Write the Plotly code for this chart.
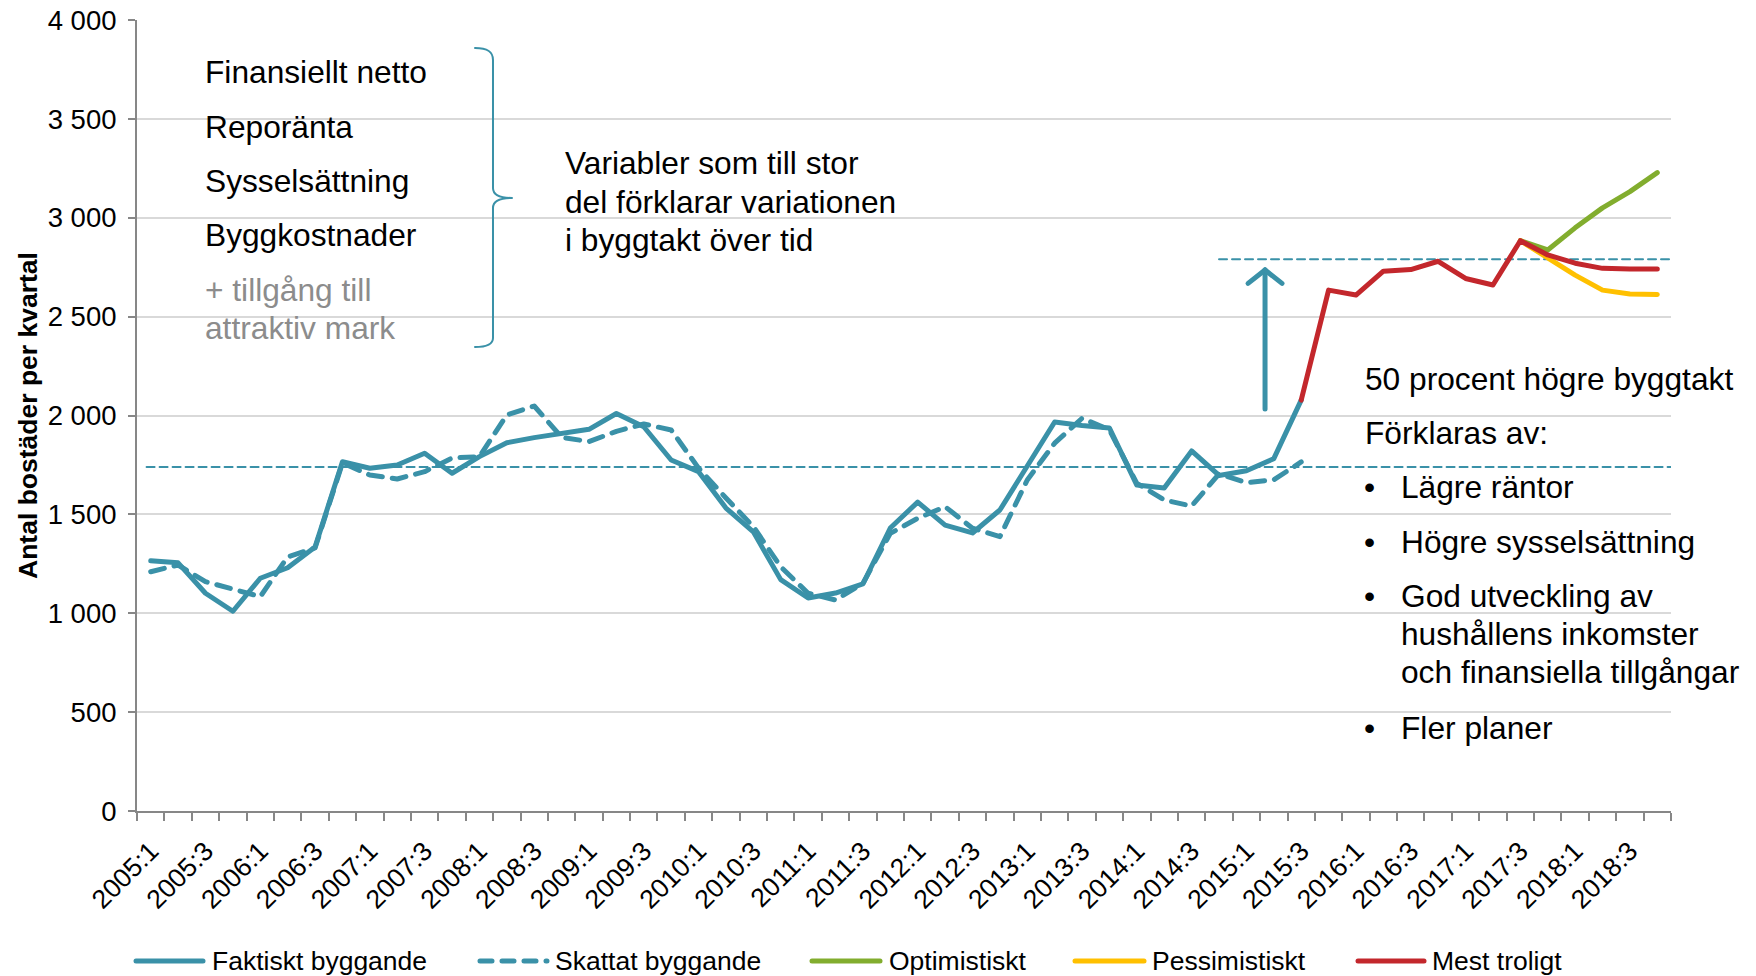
import plotly.graph_objects as go

# Quarterly categories 2005:1 – 2018:4
quarters = [f"{y}:{q}" for y in range(2005, 2019) for q in range(1, 5)]
tick_labels = [q if i % 2 == 0 else "" for i, q in enumerate(quarters)]

# Actual construction, 2005:1 – 2015:3
faktiskt = [1265, 1255, 1101, 1010, 1177, 1230, 1335, 1766, 1733, 1750,
            1809, 1708, 1792, 1862, 1888, 1912, 1930, 2010, 1943, 1775,
            1716, 1532, 1412, 1170, 1077, 1102, 1148, 1431, 1562, 1446,
            1406, 1522, 1739, 1967, 1949, 1937, 1648, 1633, 1821, 1697,
            1721, 1782, 2078]
# Model estimate, 2005:1 – 2015:3
skattat = [1210, 1244, 1160, 1122, 1084, 1285, 1330, 1760, 1699, 1679,
           1716, 1785, 1792, 2003, 2048, 1890, 1868, 1920, 1957, 1927,
           1734, 1583, 1438, 1235, 1101, 1067, 1151, 1404, 1480, 1539,
           1430, 1387, 1674, 1860, 1986, 1927, 1657, 1573, 1542, 1705,
           1660, 1675, 1765]
# Forecast, most likely: 2015:3 – 2018:4
mest_troligt = [2078, 2634, 2609, 2730, 2738, 2780, 2693, 2660, 2884, 2812,
                2770, 2744, 2741, 2741]
# Scenarios: 2017:3 – 2018:4
optimistiskt = [2884, 2837, 2949, 3050, 3132, 3228]
pessimistiskt = [2884, 2796, 2710, 2634, 2614, 2612]

# Reference levels
niva_fore = 1740
niva_efter = 2790
pil_fran, pil_till = 2033, 2736

y_ticks = [0, 500, 1000, 1500, 2000, 2500, 3000, 3500, 4000]
y_tick_text = ["0", "500", "1 000", "1 500", "2 000", "2 500", "3 000", "3 500", "4 000"]

TEAL = "#3A91A8"
RED = "#C3272C"
GREEN = "#82AD2E"
YELLOW = "#FFC000"
GRAY_TXT = "#8C8C8C"
AXIS = "#878787"
GRID = "#D9D9D9"
FONT = "Liberation Sans, Arial, sans-serif"

W, H = 1756, 976
L, R, T, B = 137, 85, 20, 165
PW, PH = W - L - R, H - T - B


def px(x):
    return (x - L) / PW


def py(y):
    return (H - B - y) / PH


n_hist = len(faktiskt)
start_scen = len(quarters) - len(optimistiskt)
start_fc = len(quarters) - len(mest_troligt)
LW = 5

fig = go.Figure()
fig.add_trace(go.Scatter(x=quarters[:len(skattat)], y=skattat, mode="lines",
                         name="Skattat byggande", showlegend=False,
                         line=dict(color=TEAL, width=LW, dash="14px,10px")))
fig.add_trace(go.Scatter(x=quarters[:n_hist], y=faktiskt, mode="lines",
                         name="Faktiskt byggande", showlegend=False,
                         line=dict(color=TEAL, width=LW)))
fig.add_trace(go.Scatter(x=quarters[start_scen:], y=optimistiskt, mode="lines",
                         name="Optimistiskt", showlegend=False,
                         line=dict(color=GREEN, width=LW)))
fig.add_trace(go.Scatter(x=quarters[start_scen:], y=pessimistiskt, mode="lines",
                         name="Pessimistiskt", showlegend=False,
                         line=dict(color=YELLOW, width=LW)))
fig.add_trace(go.Scatter(x=quarters[start_fc:], y=mest_troligt, mode="lines",
                         name="Mest troligt", showlegend=False,
                         line=dict(color=RED, width=LW)))

shapes = []
# reference levels before / after
shapes.append(dict(type="line", xref="x", yref="y", x0=-0.15, x1=len(quarters) - 0.5,
                   y0=niva_fore, y1=niva_fore, layer="between",
                   line=dict(color=TEAL, width=2, dash="8px,5px")))
shapes.append(dict(type="line", xref="x", yref="y", x0=39.0, x1=len(quarters) - 0.5,
                   y0=niva_efter, y1=niva_efter, layer="between",
                   line=dict(color=TEAL, width=2, dash="8px,5px")))

# white boxes behind the text blocks
for x0, x1, y0, y1 in [(184, 509, 36, 352), (537, 860, 140, 295), (1343, W, 335, 765)]:
    shapes.append(dict(type="rect", xref="paper", yref="paper",
                       x0=px(x0), x1=px(x1), y0=py(y1), y1=py(y0),
                       fillcolor="white", line=dict(width=0), layer="between"))

# upward arrow
ax = 40.68
shapes.append(dict(type="line", xref="x", yref="y", x0=ax, x1=ax, y0=pil_fran, y1=pil_till,
                   line=dict(color=TEAL, width=5), layer="above"))
for s in (-1, 1):
    shapes.append(dict(type="line", xref="x", yref="y", x0=ax + s * 0.62, x1=ax,
                       y0=pil_till - 68, y1=pil_till,
                       line=dict(color=TEAL, width=5), layer="above"))

# curly brace
bp = [(475, 48), (488, 48), (493, 52), (493, 60), (493, 188), (493, 195), (500, 198), (512, 198),
      (500, 198), (493, 201), (493, 208), (493, 338), (493, 344), (488, 347), (475, 347)]
P = [f"{px(x):.5f},{py(y):.5f}" for x, y in bp]
brace = (f"M {P[0]} C {P[1]} {P[2]} {P[3]} L {P[4]} C {P[5]} {P[6]} {P[7]} "
         f"C {P[8]} {P[9]} {P[10]} L {P[11]} C {P[12]} {P[13]} {P[14]}")
shapes.append(dict(type="path", xref="paper", yref="paper", path=brace,
                   line=dict(color=TEAL, width=2), layer="above"))

annotations = []


def note(text, x, y, size=31.7, color="black"):
    annotations.append(dict(text=text, x=px(x), y=py(y), xref="paper", yref="paper",
                            xanchor="left", yanchor="middle", showarrow=False,
                            font=dict(family=FONT, size=size, color=color)))


note("Finansiellt netto", 203, 72)
note("Reporänta", 203, 127)
note("Sysselsättning", 203, 181)
note("Byggkostnader", 203, 235)
note("+ tillgång till", 203, 290, color=GRAY_TXT)
note("attraktiv mark", 203, 328, color=GRAY_TXT)

note("Variabler som till stor", 563, 163)
note("del förklarar variationen", 563, 202)
note("i byggtakt över tid", 563, 240)

note("50 procent högre byggtakt", 1363, 379)
note("Förklaras av:", 1363, 433)
for txt, yy, bullet in [("Lägre räntor", 487, True), ("Högre sysselsättning", 542, True),
                        ("God utveckling av", 596, True), ("hushållens inkomster", 634, False),
                        ("och finansiella tillgångar", 672, False), ("Fler planer", 728, True)]:
    if bullet:
        note("•", 1362, yy)
    note(txt, 1399, yy)

# legend
legend_items = [("Faktiskt byggande", TEAL, None, 134, 205, 210),
                ("Skattat byggande", TEAL, "12px,10px", 478, 549, 553),
                ("Optimistiskt", GREEN, None, 810, 882, 887),
                ("Pessimistiskt", YELLOW, None, 1073, 1146, 1150),
                ("Mest troligt", RED, None, 1356, 1426, 1430)]
LEG_Y = 961
for label, col, dash, lx0, lx1, tx in legend_items:
    ln = dict(color=col, width=5)
    if dash:
        ln["dash"] = dash
    shapes.append(dict(type="line", xref="paper", yref="paper", x0=px(lx0 + 2), x1=px(lx1 - 2),
                       y0=py(LEG_Y), y1=py(LEG_Y), line=ln, layer="above"))
    note(label, tx, LEG_Y, size=26.5)

fig.update_layout(
    width=W, height=H,
    margin=dict(l=L, r=R, t=T, b=B),
    paper_bgcolor="white", plot_bgcolor="white",
    font=dict(family=FONT, size=26, color="black"),
    showlegend=False,
    shapes=shapes,
    annotations=annotations,
    xaxis=dict(type="category", categoryorder="array", categoryarray=quarters,
               tickmode="array", tickvals=quarters, ticktext=tick_labels,
               tickson="boundaries", ticks="outside", ticklen=8, tickwidth=1.5,
               tickcolor=AXIS, tickangle=-45, tickfont=dict(size=26.5),
               ticklabelstandoff=12, automargin=False,
               showline=True, linecolor=AXIS, linewidth=2, showgrid=False,
               range=[-0.5, len(quarters) - 0.5]),
    yaxis=dict(range=[0, 4000], tickmode="array", tickvals=y_ticks, ticktext=y_tick_text,
               ticks="outside", ticklen=7, tickwidth=1.5, tickcolor=AXIS,
               tickfont=dict(size=27.5), ticklabelstandoff=6, automargin=False,
               showline=True, linecolor=AXIS, linewidth=2,
               showgrid=True, gridcolor=GRID, gridwidth=2, zeroline=False,
               title=dict(text="Antal bostäder per kvartal", standoff=2,
                          font=dict(size=26.5, weight="bold"))),
)

post = """
document.body.style.margin = '0';
var gd = document.getElementById('{plot_id}');
function roundCaps() {
  gd.querySelectorAll('.scatterlayer path.js-line, .shapelayer path').forEach(function (p) {
    p.style.strokeLinecap = 'round';
    p.style.strokeLinejoin = 'round';
  });
}
roundCaps();
if (gd.on) { gd.on('plotly_afterplot', roundCaps); }
"""

fig.write_html("out.html", post_script=post)
